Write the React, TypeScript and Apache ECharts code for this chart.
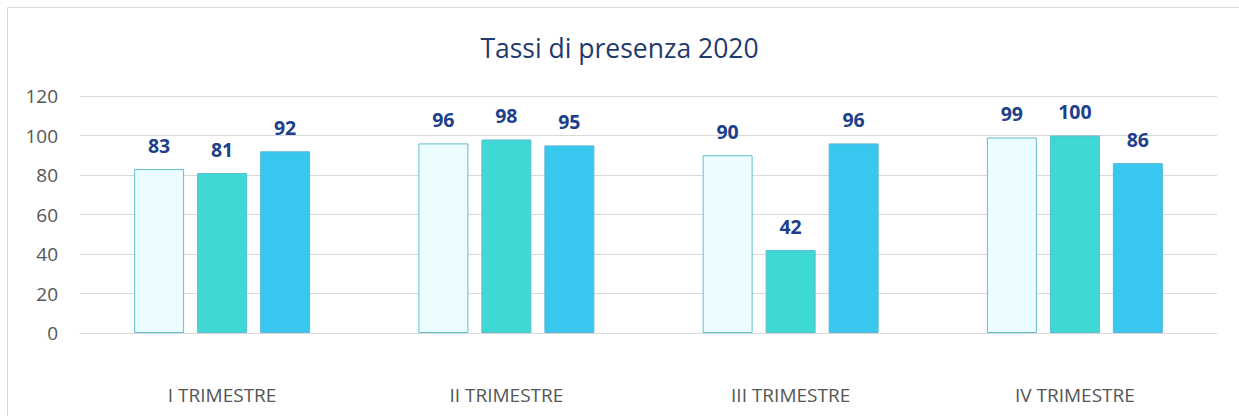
import React, { useEffect, useRef } from "react";
import * as echarts from "echarts";

const categories = ["I TRIMESTRE", "II TRIMESTRE", "III TRIMESTRE", "IV TRIMESTRE"];
const series1 = [83, 96, 90, 99];
const series2 = [81, 98, 42, 100];
const series3 = [92, 95, 96, 86];
const seriesColors = [
  { fill: "#EBFDFE", border: "#62BCD3" },
  { fill: "#3ED9D5", border: "#5BBCD0" },
  { fill: "#38C7EE", border: "#5BB6D6" },
];

export default function App() {
  const ref = useRef<HTMLDivElement>(null);
  useEffect(() => {
    document.body.style.margin = "0";
    const chart = echarts.init(ref.current!, undefined, { renderer: "svg" });
    const font = "'Open Sans', sans-serif";
    const mk = (data: number[], i: number) => ({
      type: "bar",
      data,
      barWidth: 50,
      barGap: "26%",
      itemStyle: {
        color: seriesColors[i].fill,
        borderColor: seriesColors[i].border,
        borderWidth: 1,
      },
      label: {
        show: true,
        position: "top",
        distance: 14,
        color: "#203F8A",
        fontWeight: "bold",
        fontSize: 19.5,
        fontFamily: font,
      },
    });
    chart.setOption({
      animation: false,
      title: {
        text: "Tassi di presenza 2020",
        left: "center",
        top: 29,
        textStyle: { color: "#1F3A6E", fontSize: 26.5, fontWeight: "normal", fontFamily: font },
      },
      graphic: [
        {
          type: "rect",
          shape: { x: 7.5, y: 7.5, width: 1300, height: 500 },
          style: { fill: "none", stroke: "#D9D9D9", lineWidth: 1 },
          silent: true,
          z: -10,
        },
      ],
      grid: { left: 80, right: 22, top: 96, bottom: 83 },
      xAxis: {
        type: "category",
        data: categories,
        axisLine: { lineStyle: { color: "#D9D9D9" } },
        axisTick: { show: false },
        axisLabel: { color: "#555555", fontSize: 19, margin: 52, fontFamily: font },
      },
      yAxis: {
        type: "value",
        min: 0,
        max: 120,
        interval: 20,
        axisLine: { show: false },
        axisTick: { show: false },
        splitLine: { lineStyle: { color: "#D9D9D9" } },
        axisLabel: { color: "#555555", fontSize: 19, margin: 22, fontFamily: font },
      },
      series: [mk(series1, 0), mk(series2, 1), mk(series3, 2)],
    });
    return () => chart.dispose();
  }, []);
  return <div ref={ref} style={{ width: 1239, height: 416 }} />;
}
